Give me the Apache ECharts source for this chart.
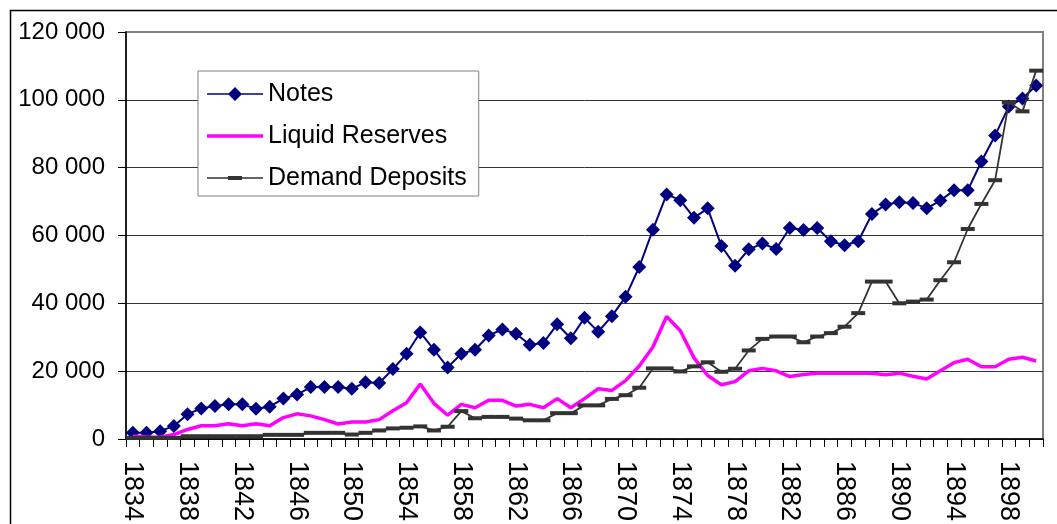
<!DOCTYPE html>
<html>
<head>
<meta charset="utf-8">
<script src="https://cdn.jsdelivr.net/npm/echarts@6/dist/echarts.min.js"></script>
<style>
html,body{margin:0;padding:0;background:#fff;}
#chart{width:1057px;height:524px;}
</style>
</head>
<body>
<div id="chart"></div>
<script>
const years = ['1834','1835','1836','1837','1838','1839','1840','1841','1842','1843','1844','1845','1846','1847','1848','1849','1850','1851','1852','1853','1854','1855','1856','1857','1858','1859','1860','1861','1862','1863','1864','1865','1866','1867','1868','1869','1870','1871','1872','1873','1874','1875','1876','1877','1878','1879','1880','1881','1882','1883','1884','1885','1886','1887','1888','1889','1890','1891','1892','1893','1894','1895','1896','1897','1898','1899','1900'];

const notes = [1800,1800,2300,3800,7300,9000,9700,10200,10200,8900,
  9500,11900,13100,15300,15300,15300,14800,16700,16500,20600,
  25100,31400,26300,21100,25100,26300,30500,32300,31000,27800,
  28300,33800,29700,35700,31600,36200,41900,50700,61700,72100,
  70400,65200,68000,56900,51100,55900,57600,56000,62200,61600,
  62200,58300,57100,58300,66300,69100,69800,69600,68000,70300,
  73300,73300,81800,89500,98000,100400,104200];

const liquidReserves = [800,600,500,1300,2800,3900,3900,4500,3900,4500,
  3900,6300,7400,6800,5700,4400,5000,5000,5700,8300,
  10700,16200,10500,7000,10200,9200,11400,11400,9700,10200,
  9200,11900,9200,11900,14800,14300,17200,21500,27100,36100,
  31900,23900,18700,16000,16900,20100,20800,20100,18400,19000,
  19400,19400,19400,19400,19400,18900,19400,18500,17700,20100,
  22500,23500,21300,21300,23500,24100,23000];

const demandDeposits = [300,300,300,300,800,800,800,800,800,800,
  1200,1200,1200,1800,1800,1800,1300,1800,2500,3100,
  3300,3700,2500,3600,8200,6100,6500,6500,6000,5500,
  5500,7600,7600,9900,9900,11800,12900,15100,20800,20800,
  19900,21400,22600,19800,20700,26100,29500,30200,30200,28500,
  30200,31200,33100,37100,46400,46400,40000,40500,41100,46800,
  52100,61900,69300,76300,99200,96600,108600];

const yTicks = [0, 20000, 40000, 60000, 80000, 100000, 120000];

const FONT = 'Liberation Sans, Arial, sans-serif';
function fmt(v){ return String(v).replace(/\B(?=(\d{3})+(?!\d))/g, ' '); }

const chart = echarts.init(document.getElementById('chart'), null, {renderer:'canvas'});
chart.setOption({
  animation: false,
  backgroundColor: '#ffffff',
  graphic: [{
    type: 'rect', z: 100, silent: true,
    shape: {x: 10.5, y: 10.5, width: 1100, height: 600},
    style: {fill: 'none', stroke: '#000', lineWidth: 1.5}
  }],
  grid: {
    left: 126, right: 14, top: 32, bottom: 76,
    show: true, backgroundColor: '#fff', borderColor: '#808080', borderWidth: 2
  },
  legend: {
    orient: 'vertical',
    left: 198, top: 71,
    padding: [10, 12, 5, 9],
    itemGap: 16,
    itemWidth: 56, itemHeight: 26,
    backgroundColor: '#fff',
    borderColor: '#808080', borderWidth: 1,
    textStyle: {fontFamily: FONT, fontSize: 25, color: '#000', lineHeight: 26},
    itemStyle: {borderWidth: 0},
    data: [
      {name: 'Notes', icon: 'path://M0,12.25h56v1.5h-56z M28,6 L35,13 L28,20 L21,13 z'},
      {name: 'Liquid Reserves', icon: 'path://M0,0h56v3.5h-56z'},
      {name: 'Demand Deposits', icon: 'path://M0,0h56v1.5h-56z M21,-1.25h14v4h-14z'}
    ]
  },
  xAxis: {
    type: 'category',
    data: years,
    boundaryGap: true,
    axisLine: {lineStyle: {color: '#000', width: 1.5}},
    axisTick: {show: true, interval: 0, length: 8, lineStyle: {color: '#000', width: 1}},
    axisLabel: {interval: 3, rotate: -90, margin: 22, fontFamily: FONT, fontSize: 27, color: '#000'},
    splitLine: {show: false}
  },
  yAxis: {
    type: 'value',
    min: yTicks[0], max: yTicks[yTicks.length-1], interval: 20000,
    axisLine: {show: true, lineStyle: {color: '#000', width: 1.5}},
    axisTick: {show: true, length: 8, lineStyle: {color: '#000'}},
    axisLabel: {margin: 21, fontFamily: FONT, fontSize: 24, color: '#000', formatter: fmt},
    splitLine: {show: true, lineStyle: {color: ['#333','#333','#333','#333','#333','#333','#808080'], width: 1}}
  },
  series: [
    {
      name: 'Notes', type: 'line', data: notes,
      symbol: 'diamond', symbolSize: 14, showAllSymbol: true,
      itemStyle: {color: '#000080'},
      lineStyle: {color: '#000080', width: 2},
      z: 2
    },
    {
      name: 'Liquid Reserves', type: 'line', data: liquidReserves,
      symbol: 'none',
      itemStyle: {color: '#FF00FF'},
      lineStyle: {color: '#FF00FF', width: 3.5},
      z: 3
    },
    {
      name: 'Demand Deposits', type: 'line', data: demandDeposits,
      symbol: 'rect', symbolSize: [14, 4], showAllSymbol: true,
      itemStyle: {color: '#333333'},
      lineStyle: {color: '#333333', width: 1.8},
      z: 4
    }
  ]
});
</script>
</body>
</html>
